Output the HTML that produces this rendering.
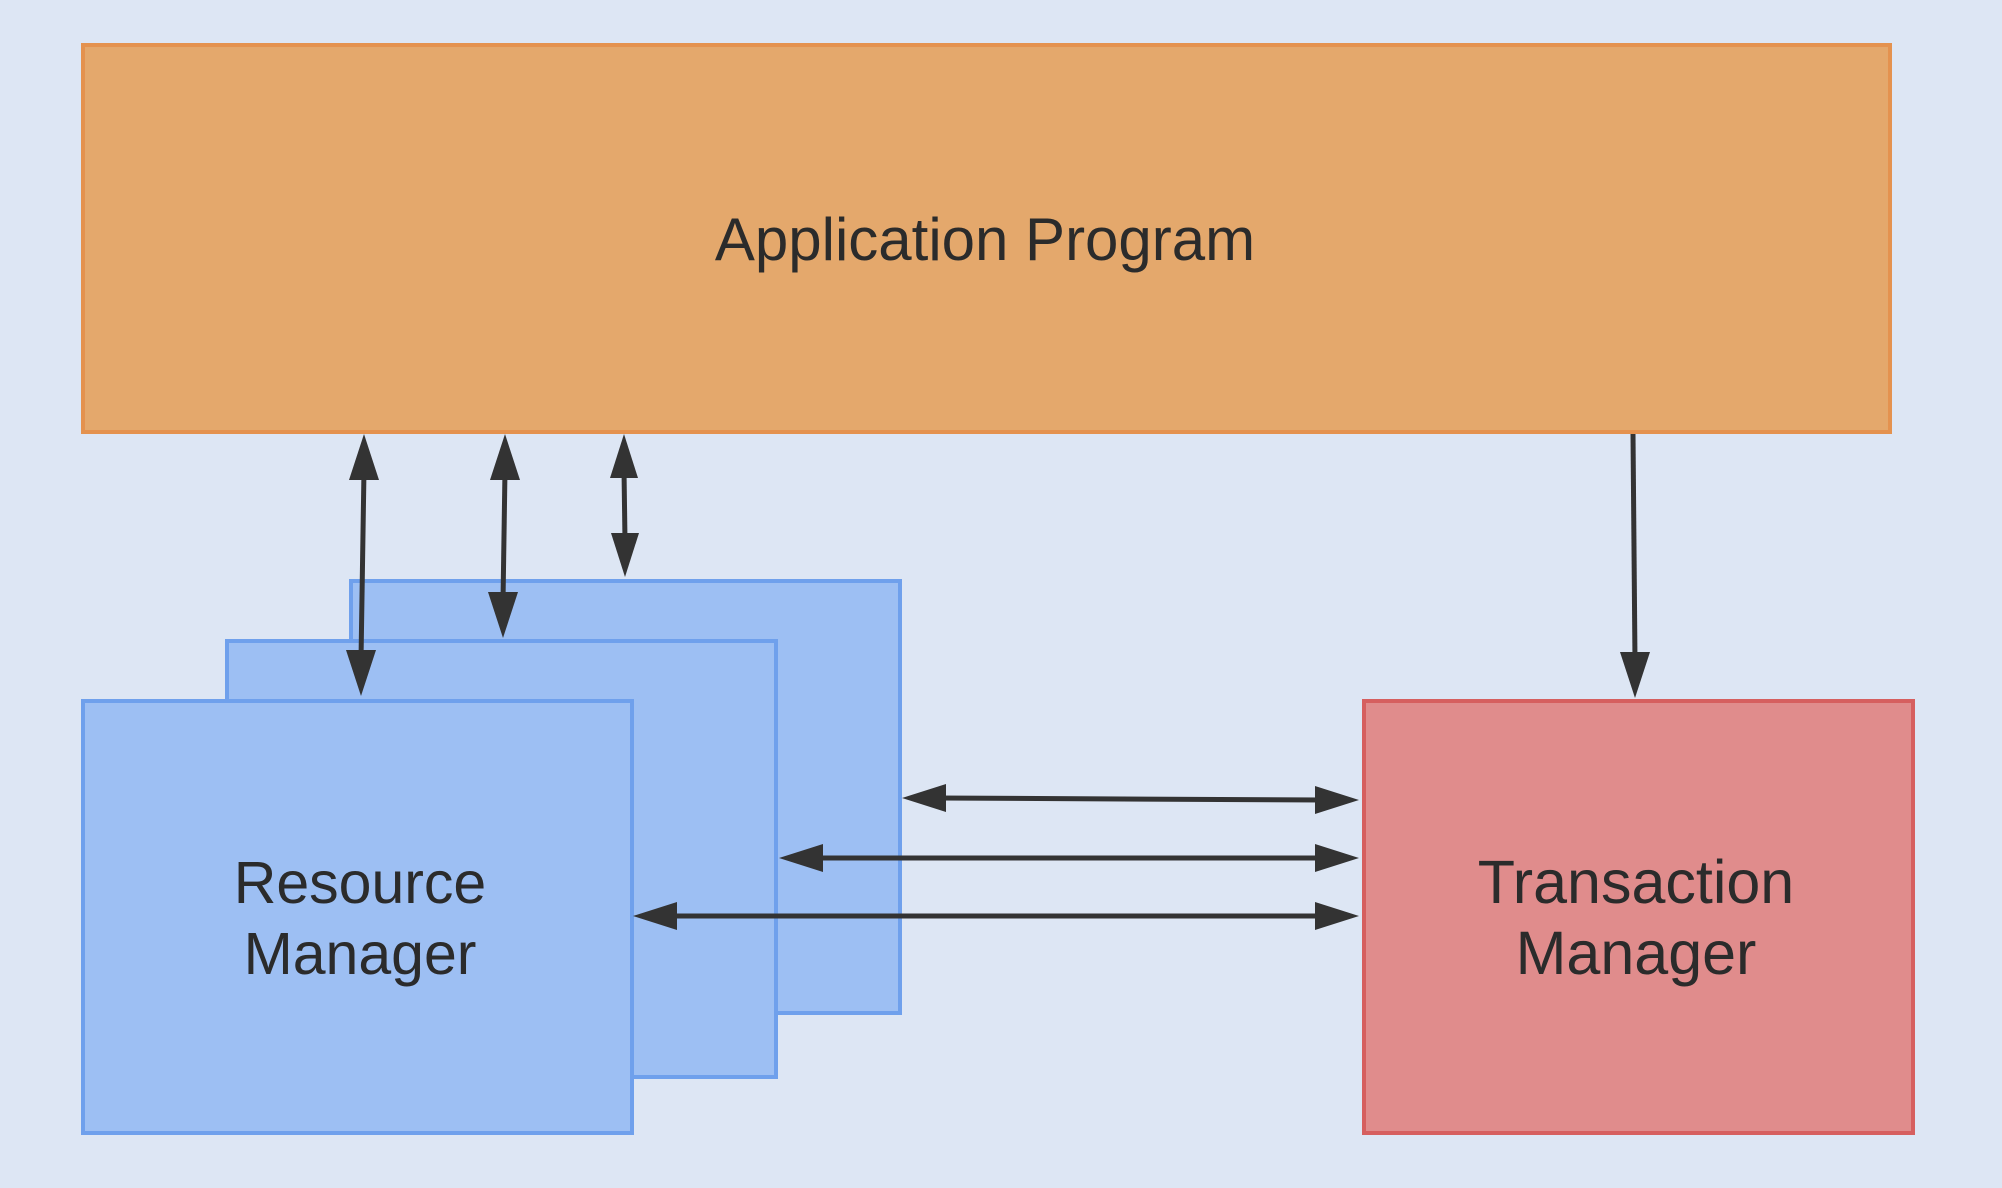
<!DOCTYPE html>
<html><head><meta charset="utf-8"><style>
html,body{margin:0;padding:0;background:#dde6f4;}
svg{display:block;}
text{font-family:"Liberation Sans",sans-serif;fill:#2b2b2b;}
</style></head><body>
<svg width="2002" height="1188" viewBox="0 0 2002 1188" xmlns="http://www.w3.org/2000/svg">
<rect width="2002" height="1188" fill="#dde6f4"/>
<rect x="83" y="45" width="1807" height="387" fill="#e4a86c" stroke="#e4924f" stroke-width="4"/>
<text x="985" y="260" font-size="60" text-anchor="middle">Application Program</text>
<rect x="351" y="581" width="549" height="432" fill="#9dbff3" stroke="#6fa0ec" stroke-width="4"/>
<rect x="227" y="641" width="549" height="436" fill="#9dbff3" stroke="#6fa0ec" stroke-width="4"/>
<rect x="83" y="701" width="549" height="432" fill="#9dbff3" stroke="#6fa0ec" stroke-width="4"/>
<text x="360" y="903" font-size="59" text-anchor="middle">Resource</text>
<text x="360" y="974" font-size="59" text-anchor="middle">Manager</text>
<rect x="1364" y="701" width="549" height="432" fill="#e08c8c" stroke="#d65f5f" stroke-width="4"/>
<text x="1636" y="903" font-size="61" text-anchor="middle">Transaction</text>
<text x="1636" y="974" font-size="61" text-anchor="middle">Manager</text>
<g stroke="#333" stroke-width="5" fill="none">
<line x1="364" y1="470" x2="361" y2="660"/>
<line x1="505" y1="470" x2="503" y2="602"/>
<line x1="624" y1="470" x2="625" y2="541"/>
<line x1="1633" y1="434" x2="1635" y2="662"/>
<line x1="938" y1="798" x2="1323" y2="800"/>
<line x1="815" y1="858" x2="1323" y2="858"/>
<line x1="669" y1="916" x2="1323" y2="916"/>
</g>
<g fill="#333">
<polygon points="364,434 349,480 379,480"/>
<polygon points="361,696 346,650 376,650"/>
<polygon points="505,434 490,480 520,480"/>
<polygon points="503,638 488,592 518,592"/>
<polygon points="624,434 610,478 638,478"/>
<polygon points="625,577 611,533 639,533"/>
<polygon points="1635,698 1620,652 1650,652"/>
<polygon points="902,798 946,784 946,812"/>
<polygon points="1359,800 1315,786 1315,814"/>
<polygon points="779,858 823,844 823,872"/>
<polygon points="1359,858 1315,844 1315,872"/>
<polygon points="633,916 677,902 677,930"/>
<polygon points="1359,916 1315,902 1315,930"/>
</g>
</svg>
</body></html>
